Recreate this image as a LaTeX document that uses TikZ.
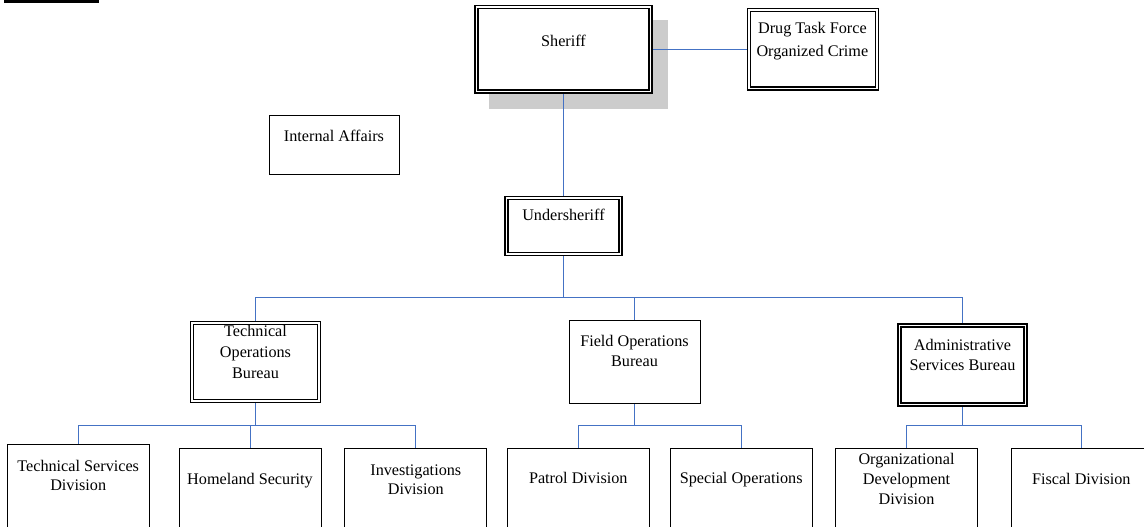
\documentclass[tikz,border=0pt]{standalone}
\usepackage{fontspec}
\setmainfont{Liberation Serif}
\usetikzlibrary{backgrounds}
\definecolor{linkblue}{RGB}{68,114,196}
\definecolor{shadowgray}{RGB}{204,204,204}

\begin{document}
\begin{tikzpicture}[x=1pt,y=-1pt,
  box/.style={draw=black, line width=1pt, fill=white, inner sep=0pt, outer sep=0pt},
  dbox/.style={draw=black, line width=1.6pt, double=white, double distance=1.4pt,
               fill=white, inner sep=0pt, outer sep=0pt},
  lowbox/.style={box, anchor=north, minimum width=142pt, minimum height=110pt},
  % labels are placed by the baseline of their last line
  lbl/.style={anchor=base, align=center, inner sep=0pt,
              font=\fontsize{16.2}{19.8}\selectfont},
  skip/.style={font=\fontsize{16.2}{#1}\selectfont},
  link/.style={draw=linkblue, line width=1.1pt}]

\useasboundingbox (0,0) rectangle (1144,527);
\clip (0,0) rectangle (1144,527);

% header bar
\fill[black] (4,0) rectangle (99,2.7);

% command level
\node[dbox, minimum width=174.3pt, minimum height=84.6pt] (sheriff) at (563.5,49.5) {};
\node[lbl] (sheriff-t) at (563.5,46.7) {Sheriff};
\node[dbox, minimum width=127.9pt, minimum height=78.6pt] (dtf) at (812.85,49.5) {};
\node[lbl, skip=22.4] (dtf-t) at (812.4,56.4) {Drug Task Force\\Organized Crime};
\node[box, minimum width=130pt, minimum height=59.3pt] (ia) at (334,145.3) {};
\node[lbl] (ia-t) at (334,141.4) {Internal Affairs};
\node[dbox, minimum width=114.3pt, minimum height=55.9pt] (us) at (563.5,225.85) {};
\node[lbl] (us-t) at (563.5,220.7) {Undersheriff};

% bureaus
\node[dbox, minimum width=126.9pt, minimum height=78.2pt] (tob) at (255.5,362) {};
\node[lbl, skip=20.8] (tob-t) at (255.5,378) {Technical\\Operations\\Bureau};
\node[box, minimum width=131pt, minimum height=82.6pt] (fob) at (634.5,362) {};
\node[lbl, skip=20] (fob-t) at (634.5,366.7) {Field Operations\\Bureau};
\node[dbox, minimum width=125.9pt, minimum height=79.3pt] (asb) at (962.5,364.85) {};
\node[lbl, skip=20] (asb-t) at (962.5,370.7) {Administrative\\Services Bureau};

% divisions
\node[lowbox, minimum width=141.7pt] (tsd) at (78.5,444.3) {};
\node[lbl, skip=19.3] (tsd-t) at (78.2,490.7) {Technical Services\\Division};
\node[lowbox] (hs) at (250.5,448) {};
\node[lbl] (hs-t) at (250,484) {Homeland Security};
\node[lowbox, minimum width=141.7pt] (inv) at (415.5,448) {};
\node[lbl, skip=19] (inv-t) at (415.8,494.7) {Investigations\\Division};
\node[lowbox] (pd) at (578.5,448) {};
\node[lbl] (pd-t) at (578.3,483.4) {Patrol Division};
\node[lowbox, minimum width=142.3pt] (so) at (741.5,448) {};
\node[lbl] (so-t) at (741.2,483.4) {Special Operations};
\node[lowbox, minimum width=141.6pt] (odd) at (906.5,448) {};
\node[lbl, skip=19.7] (odd-t) at (906.5,504) {Organizational\\Development\\Division};
\node[lowbox, minimum width=141pt] (fd) at (1081.5,448) {};
\node[lbl] (fd-t) at (1081.3,484.7) {Fiscal Division};

\begin{scope}[on background layer]
  % drop shadow of the sheriff box
  \fill[shadowgray] ([shift={(12.65,12.8)}]sheriff.north west)
                    rectangle ([shift={(17.05,17.2)}]sheriff.south east);
  \draw[link] (sheriff.east) -- (dtf.west);
  \draw[link] (sheriff.south) -- (us.north);

  \coordinate (bus) at (0,297.5);
  \draw[link] (us.south) -- (us.south |- bus);
  \draw[link] (tob.north) -- (tob.north |- bus) -- (asb.north |- bus) -- (asb.north);
  \draw[link] (fob.north) -- (fob.north |- bus);

  \coordinate (busa) at (0,425.5);
  \draw[link] (tob.south) -- (tob.south |- busa);
  \draw[link] (tsd.north) -- (tsd.north |- busa) -- (inv.north |- busa) -- (inv.north);
  \draw[link] (hs.north) -- (hs.north |- busa);

  \coordinate (busb) at (0,425.5);
  \draw[link] (fob.south) -- (fob.south |- busb);
  \draw[link] (pd.north) -- (pd.north |- busb) -- (so.north |- busb) -- (so.north);
  \draw[link] (asb.south) -- (asb.south |- busb);
  \draw[link] (odd.north) -- (odd.north |- busb) -- (fd.north |- busb) -- (fd.north);
\end{scope}
\end{tikzpicture}
\end{document}
